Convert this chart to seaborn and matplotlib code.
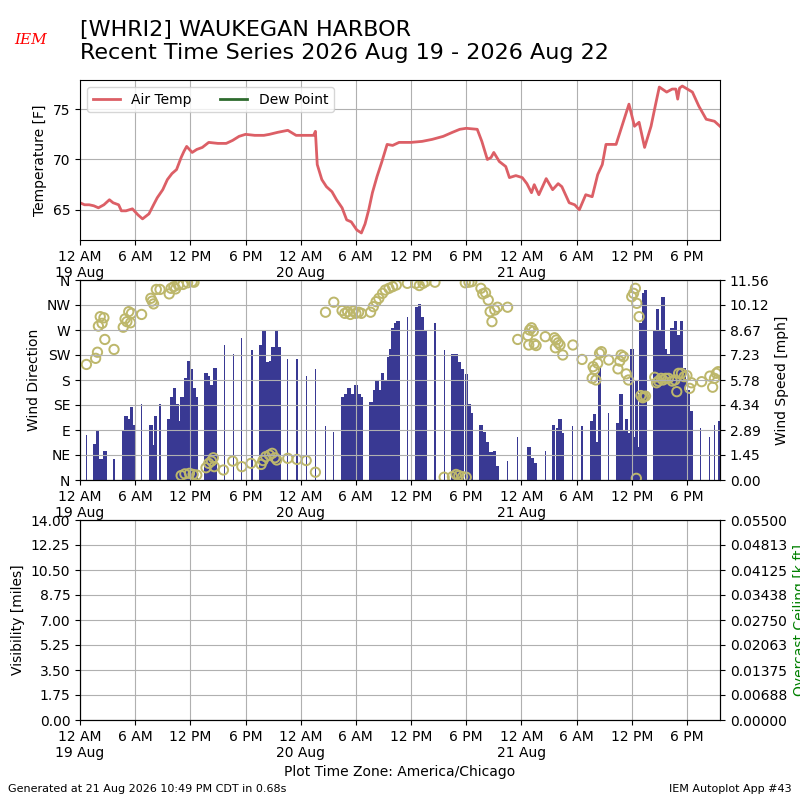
import pandas as pd
import numpy as np
import matplotlib
matplotlib.use("Agg")
import matplotlib.pyplot as plt
import matplotlib.dates as mdates
from matplotlib.ticker import FuncFormatter, FormatStrFormatter
import seaborn as sns

# --- Data (hours after 19 Aug 2026 00:00 CDT) ---
temp_hours = [0.0, 0.5, 1.0, 1.5, 2.0, 2.6, 3.2, 3.6, 4.2, 4.5,
              5.0, 5.7, 6.3, 6.8, 7.5, 8.0, 8.4, 9.0, 9.5, 10.0,
              10.5, 11.0, 11.3, 11.6, 12.2, 12.7, 13.3, 14.0, 15.0, 15.9,
              16.6, 17.3, 18.0, 19.0, 20.0, 20.6, 21.5, 22.6, 23.5, 24.5,
              25.4, 25.6, 25.8, 26.3, 26.8, 27.4, 27.9, 28.5, 29.0, 29.5,
              30.1, 30.6, 31.0, 31.4, 31.8, 32.3, 32.8, 33.4, 34.0, 34.7,
              36.0, 37.2, 38.3, 39.5, 40.5, 41.3, 42.0, 43.2, 43.7, 44.3,
              44.7, 45.0, 45.6, 46.3, 46.7, 47.4, 48.1, 48.6, 49.1, 49.4,
              49.9, 50.7, 51.4, 52.0, 52.4, 53.2, 53.8, 54.3, 55.0, 55.7,
              56.3, 56.8, 57.2, 58.3, 59.0, 59.7, 60.3, 60.8, 61.4, 62.1,
              62.6, 63.0, 63.8, 64.4, 64.8, 65.0, 65.2, 65.5, 66.6, 67.3,
              68.1, 69.0, 69.6]
temp_f = [65.7, 65.5, 65.5, 65.4, 65.2, 65.5, 66.0, 65.7, 65.5, 64.9,
          64.9, 65.1, 64.5, 64.1, 64.6, 65.5, 66.2, 67.0, 68.0, 68.6,
          69.0, 70.2, 70.8, 71.3, 70.7, 71.0, 71.2, 71.7, 71.6, 71.6,
          71.9, 72.3, 72.5, 72.4, 72.4, 72.5, 72.7, 72.9, 72.4, 72.4,
          72.4, 72.8, 69.5, 68.0, 67.3, 66.8, 66.0, 65.2, 64.0, 63.8,
          63.0, 62.7, 63.6, 65.0, 66.7, 68.3, 69.7, 71.5, 71.4, 71.7,
          71.7, 71.8, 72.0, 72.3, 72.7, 73.0, 73.1, 73.0, 71.8, 70.0,
          70.2, 70.7, 69.8, 69.3, 68.2, 68.4, 68.2, 67.6, 66.7, 67.5,
          66.5, 68.1, 67.0, 67.6, 67.3, 65.7, 65.5, 65.0, 66.5, 66.3,
          68.5, 69.5, 71.5, 71.5, 73.5, 75.5, 73.3, 73.7, 71.2, 73.3,
          75.5, 77.2, 76.7, 77.0, 77.0, 76.0, 77.1, 77.3, 76.7, 75.3,
          74.0, 73.8, 73.3]

wind_hours = [0.7, 1.6, 1.9, 2.1, 2.3, 2.7, 3.7,
              4.7, 5.0, 5.3, 5.6, 5.8, 6.7, 7.7, 7.9, 8.2, 8.7,
              9.6, 10.0, 10.3, 10.6, 10.85, 11.1, 11.5, 11.85, 12.15, 12.4, 12.7,
              13.7, 14.0, 14.3, 14.7, 15.7, 16.7, 17.6, 18.7,
              19.6, 20.0, 20.4, 20.75, 21.0, 21.4, 21.7,
              22.6, 23.6, 24.6, 25.6, 26.7, 27.6,
              28.55, 28.9, 29.25, 29.6, 30.0, 30.35, 30.6,
              31.65, 32.0, 32.3, 32.55, 32.9, 33.25, 33.55, 33.8, 34.05, 34.35, 34.6,
              35.6, 36.6, 36.9, 37.25, 37.55, 38.6, 39.6,
              40.5, 40.9, 41.25, 41.6, 42.0, 42.3, 42.6,
              43.6, 43.95, 44.3, 44.7, 45.05, 45.4, 46.5, 47.6,
              48.85, 49.2, 49.55, 50.6, 51.5, 51.9, 52.2, 52.5, 53.6, 54.6,
              55.65, 55.95, 56.2, 56.5, 57.5,
              58.5, 58.85, 59.1, 59.4, 59.65,
              60.05, 60.3, 60.55, 60.8, 61.0, 61.3, 61.5,
              62.5, 62.8, 63.1, 63.4, 63.7, 64.0, 64.4, 64.75, 65.1, 65.4, 65.75, 66.1, 66.45,
              67.5, 68.45, 69.0, 69.5]
wind_mph = [2.6, 2.1, 2.9, 1.0, 1.2, 1.7, 1.2,
            2.9, 3.7, 3.5, 4.2, 3.2, 4.4, 3.2, 2.0, 3.7, 4.4,
            3.5, 4.8, 5.3, 4.4, 3.4, 4.8, 5.9, 6.9, 6.4, 5.3, 4.8,
            6.2, 6.0, 5.5, 6.5, 7.8, 7.3, 8.2, 7.5,
            7.8, 8.6, 6.8, 6.9, 7.7, 8.7, 7.7,
            7.0, 7.0, 6.0, 6.4, 3.1, 2.8,
            4.8, 5.0, 5.3, 5.0, 5.5, 5.0, 4.8,
            4.5, 5.2, 5.8, 5.2, 6.2, 5.8, 7.1, 7.6, 8.8, 9.1, 9.2,
            9.4, 10.0, 10.2, 9.4, 8.7, 9.1, 7.5,
            7.3, 7.3, 6.8, 6.4, 6.1, 4.4, 3.9,
            3.2, 2.8, 2.2, 1.6, 1.7, 0.8, 1.1, 2.5,
            1.9, 1.3, 1.0, 1.7, 3.2, 3.0, 3.5, 2.7, 3.1, 3.1,
            3.4, 3.8, 2.2, 6.5, 3.9,
            3.3, 5.0, 2.9, 3.5, 2.7,
            7.6, 2.5, 5.8, 1.9, 9.1, 10.8, 11.0,
            8.6, 9.9, 8.7, 10.6, 7.6, 7.3, 8.8, 9.2, 8.4, 9.2, 6.5, 5.2, 4.0,
            3.0, 2.5, 3.2, 3.4]

dir_hours = [0.7, 1.7, 1.9, 2.0, 2.2, 2.4, 2.6, 2.7, 3.7,
             4.7, 4.9, 5.1, 5.3, 5.5, 5.6, 6.7, 7.7, 7.85, 8.0, 8.3, 8.7,
             9.7, 9.9, 10.2, 10.4, 10.7, 11.2, 11.7, 12.2, 12.4,
             11.0, 11.4, 11.9, 12.3, 12.7, 13.7, 14.0, 14.3, 14.5, 14.6,
             15.6, 16.6, 17.6, 18.6, 19.7, 19.9, 20.2, 20.6, 20.9, 21.2, 21.4,
             22.6, 23.6, 24.6, 25.6, 26.7, 27.6,
             28.5, 28.8, 29.1, 29.4, 29.7, 30.0, 30.3, 30.6,
             31.6, 31.9, 32.2, 32.5, 32.9, 33.2, 33.6, 34.0, 34.4,
             35.6, 36.5, 36.9, 37.3, 37.6, 38.6,
             39.6, 40.5, 40.9, 41.2, 41.6, 42.0, 41.9, 42.3, 42.6,
             43.6, 43.8, 44.1, 44.4, 44.6, 44.8, 45.1, 45.4, 46.5, 47.6,
             48.7, 48.8, 48.9, 49.1, 49.3, 49.4, 49.6, 50.6,
             51.6, 51.7, 51.8, 52.0, 52.2, 52.5, 53.6, 54.6,
             55.7, 55.8, 55.95, 56.1, 56.3, 56.5, 56.7, 57.5,
             58.5, 58.7, 58.85, 59.1, 59.4, 59.65,
             60.0, 60.2, 60.4, 60.55, 60.8, 60.5,
             61.0, 61.2, 61.3, 61.5, 62.5, 62.7, 62.9, 63.2,
             63.4, 63.7, 64.0, 64.4, 64.7, 64.9, 65.1, 65.4, 65.7, 66.0, 66.3, 66.5,
             67.6, 68.5, 68.8, 69.0, 69.2, 69.4]
dir_deg = [208, 219, 230, 277, 294, 282, 292, 253, 235,
           275, 290, 285, 303, 283, 300, 298, 327, 322, 317, 343, 343,
           335, 345, 348, 344, 351, 352, 355, 357, 356,
           8, 11, 12, 10, 9, 22, 30, 34, 40, 24,
           18, 34, 24, 30, 28, 35, 42, 45, 48, 40, 36,
           39, 37, 35, 14, 302, 320,
           305, 300, 303, 298, 304, 300, 302, 300,
           302, 312, 321, 327, 336, 342, 345, 348, 351,
           354, 354, 350, 354, 357, 356,
           5, 6, 10, 8, 6, 5, 355, 356, 357,
           345, 335, 337, 324, 303, 285, 306, 311, 311, 253,
           260, 243, 270, 274, 268, 245, 242, 258,
           256, 238, 252, 247, 243, 225, 243, 217,
           183, 204, 199, 180, 210, 228, 231, 216,
           200, 214, 225, 222, 191, 180,
           330, 336, 345, 318, 294, 3,
           152, 148, 150, 151, 185, 175, 178, 183,
           180, 183, 183, 178, 180, 159, 192, 192, 186, 188, 165, 175,
           177, 187, 167, 183, 192, 195]

compass = ["N", "NE", "E", "SE", "S", "SW", "W", "NW", "N"]

start = pd.Timestamp("2026-08-19 00:00")
temp_t = start + pd.to_timedelta(temp_hours, unit="h")
wind_t = start + pd.to_timedelta(wind_hours, unit="h")
dir_t = start + pd.to_timedelta(dir_hours, unit="h")

# bars in a run of close observations fill the gap, lone ones stay thin
wh = np.array(wind_hours)
gaps = np.minimum(np.diff(wh, prepend=-9), np.diff(wh, append=99))
bar_width = np.where(gaps < 0.45, 0.37, 0.13) / 24.0

red = "#dc5f66"
navy = "#393993"
khaki = "#bdb76b"
xmin = start
xmax = start + pd.Timedelta(hours=69.6)
speed_top = 11.5625


def time_fmt(x, pos):
    d = mdates.num2date(x)
    if d.hour == 0:
        return "12 AM\n" + d.strftime("%d %b")
    return d.strftime("%-I %p")


def setup_x(ax):
    ax.xaxis.set_major_locator(mdates.HourLocator(byhour=[0, 6, 12, 18]))
    ax.xaxis.set_major_formatter(FuncFormatter(time_fmt))
    ax.set_xlim(xmin, xmax)
    ax.set_xlabel("")


fig = plt.figure(figsize=(8, 8), dpi=100)

# --- Temperature ---
ax1 = fig.add_axes([0.1, 0.7, 0.8, 0.2])
sns.lineplot(x=temp_t, y=temp_f, ax=ax1, color=red, lw=2, label="Air Temp")
ax1.plot([], [], color="#2e6b2e", lw=2, label="Dew Point")
ax1.set_ylim(62.0, 77.9)
ax1.set_ylabel("Temperature [F]")
ax1.grid(True)
ax1.legend(loc="upper left", ncol=2)
setup_x(ax1)

# --- Wind ---
ax2 = fig.add_axes([0.1, 0.4, 0.8, 0.25])
ax2b = ax2.twinx()
ax2b.bar(wind_t, wind_mph, width=bar_width, color=navy, linewidth=0)
ax2b.set_ylim(0, speed_top)
ax2b.set_yticks(np.linspace(0, speed_top, 9))
ax2b.yaxis.set_major_formatter(FormatStrFormatter("%.2f"))
ax2b.set_ylabel("Wind Speed [mph]")

sns.scatterplot(x=dir_t, y=dir_deg, ax=ax2, marker="o", s=45,
                facecolors="none", edgecolors=khaki, linewidths=1.4)
ax2.set_zorder(ax2b.get_zorder() + 1)
ax2.patch.set_visible(False)
ax2.set_ylim(0, 360)
ax2.set_yticks(range(0, 361, 45))
ax2.set_yticklabels(compass)
ax2.set_ylabel("Wind Direction")
ax2.grid(True)
setup_x(ax2)

# --- Visibility / ceiling (no data) ---
ax3 = fig.add_axes([0.1, 0.1, 0.8, 0.25])
ax3.set_ylim(0, 14)
ax3.set_yticks(np.linspace(0, 14, 9))
ax3.yaxis.set_major_formatter(FormatStrFormatter("%.2f"))
ax3.set_ylabel("Visibility [miles]")
ax3.grid(True)
setup_x(ax3)
ax3b = ax3.twinx()
ax3b.set_ylim(0, 0.055)
ax3b.set_yticks(np.linspace(0, 0.055, 9))
ax3b.yaxis.set_major_formatter(FormatStrFormatter("%.5f"))
ax3b.set_ylabel("Overcast Ceiling [k ft]", color="green")
ax3.set_xlabel("Plot Time Zone: America/Chicago")

fig.text(0.1, 0.975, "[WHRI2] WAUKEGAN HARBOR\nRecent Time Series 2026 Aug 19 - 2026 Aug 22",
         fontsize=16, va="top")
fig.text(0.018, 0.945, "IEM", color="red", fontstyle="italic", family="serif", fontsize=11)
fig.text(0.01, 0.01, "Generated at 21 Aug 2026 10:49 PM CDT in 0.68s", fontsize=8)
fig.text(0.99, 0.01, "IEM Autoplot App #43", fontsize=8, ha="right")

fig.savefig("out.png", dpi=100)
